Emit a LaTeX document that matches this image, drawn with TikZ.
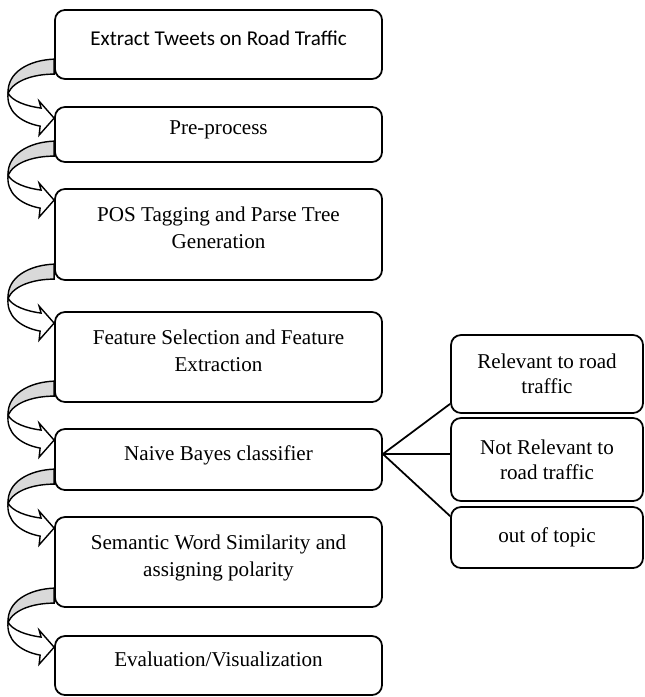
\documentclass[tikz,border=0pt]{standalone}
\usepackage{fontspec}
\setmainfont{Liberation Serif}
\newfontfamily\calibrifont{Carlito}

\tikzset{
  stage/.style={draw, line width=1pt, rounded corners=2mm, minimum width=65.4mm,
    align=center, inner sep=2pt, font=\fontsize{12}{15.4}\selectfont,
    execute at end node={\rule[-2.6mm]{0pt}{0pt}}},
  outcome/.style={draw, line width=1pt, rounded corners=2mm, minimum width=38.4mm,
    align=center, inner sep=2pt, font=\fontsize{12}{14.2}\selectfont},
  turn/.style={line width=0.8pt, line join=miter},
}

% curved block arrow ending at the left side of box #1
\newcommand{\turnarrow}[1]{%
  \begin{scope}[shift={(#1.north west)}, yshift=-2.4mm]
    \filldraw[turn, fill=gray!30] (0,-59) .. controls (-25,-58) and (-47,-46) .. (-46,-25)
      .. controls (-40,-38) and (-20,-44) .. (0,-44) -- cycle;
    \filldraw[turn, fill=white] (-46,-25) .. controls (-48,-8) and (-35,4) .. (-14,8)
      -- (-15,17) -- (0,0) -- (-15,-17) -- (-13,-10)
      .. controls (-28,-12) and (-42,-17) .. (-46,-25) -- cycle;
  \end{scope}}

\begin{document}
\begin{tikzpicture}[x=0.2mm, y=-0.2mm]
  \useasboundingbox (0,0) rectangle (644,697);

  \node[stage, minimum height=13.8mm, font=\calibrifont\fontsize{12}{15.4}\selectfont] (extract) at (218.5,44.5) {Extract Tweets on Road Traffic};
  \node[stage, minimum height=11mm] (prep) at (218.5,134.5) {Pre-process};
  \node[stage, minimum height=18.2mm] (pos) at (218.5,234.5) {POS Tagging and Parse Tree\\Generation};
  \node[stage, minimum height=18mm] (feat) at (218.5,357) {Feature Selection and Feature\\Extraction};
  \node[stage, minimum height=12.2mm] (bayes) at (218.5,459.5) {Naive Bayes classifier};
  \node[stage, minimum height=18mm] (sem) at (218.5,562) {Semantic Word Similarity and\\assigning polarity};
  \node[stage, minimum height=11.8mm] (eval) at (218.5,665.5) {Evaluation/Visualization};

  \node[outcome, minimum height=15.6mm] (rel) at (547,374) {Relevant to road\\traffic};
  \node[outcome, minimum height=16.6mm] (notrel) at (547,459.5) {Not Relevant to\\road traffic};
  \node[outcome, minimum height=12.2mm] (off) at (547,537.5) {out of topic};

  \coordinate (fan) at ([yshift=1.1mm]bayes.east);

  \begin{scope}[line width=1pt]
    \draw (fan) -- ([yshift=2mm]rel.south west);
    \draw (fan) -- ([yshift=1.1mm]notrel.west);
    \draw (fan) -- ([yshift=-2mm]off.north west);
  \end{scope}

  \turnarrow{prep}
  \turnarrow{pos}
  \turnarrow{feat}
  \turnarrow{bayes}
  \turnarrow{sem}
  \turnarrow{eval}
\end{tikzpicture}
\end{document}
